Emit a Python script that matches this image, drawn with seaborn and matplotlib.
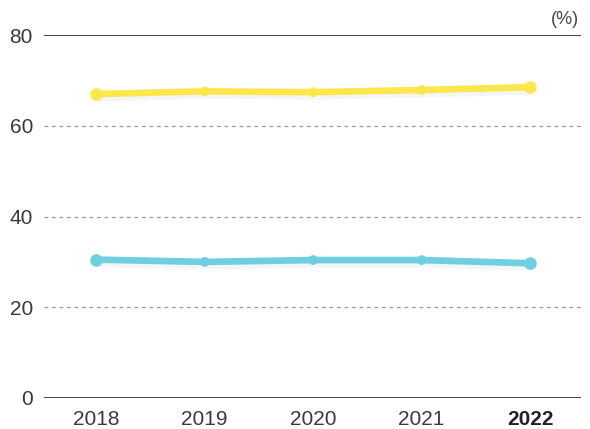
import pandas as pd
import seaborn as sns
import matplotlib.pyplot as plt
import matplotlib.patheffects as pe

years = ["2018", "2019", "2020", "2021", "2022"]
yellow_vals = [67.0, 67.6, 67.4, 67.9, 68.5]
blue_vals = [30.5, 30.0, 30.4, 30.4, 29.7]

df = pd.DataFrame({"Year": years * 2,
                   "Value": yellow_vals + blue_vals,
                   "Series": ["yellow"] * 5 + ["blue"] * 5})

sns.set_style("white")
plt.rcParams['font.family'] = ['Liberation Sans', 'DejaVu Sans']

fig = plt.figure(figsize=(5.9, 4.29), dpi=100)
ax = fig.add_axes([0.0746, 0.0723, 0.9104, 0.846])

palette = {"yellow": "#FDE74C", "blue": "#6FCEE0"}
shadow = [pe.SimpleLineShadow(offset=(1, -3), shadow_color="#9fb4c4", alpha=0.12, rho=1), pe.Normal()]
sns.lineplot(data=df, x="Year", y="Value", hue="Series", palette=palette,
             linewidth=4.8, marker="o", markersize=7, markeredgewidth=0,
             legend=False, ax=ax, path_effects=shadow, sort=False)

# bigger end markers
for vals, key in [(yellow_vals, "yellow"), (blue_vals, "blue")]:
    ax.plot([0, 4], [vals[0], vals[-1]], "o", color=palette[key], markersize=9, markeredgewidth=0, zorder=5)

ax.set_ylim(0, 80)
ax.set_xlim(-0.48, 4.47)
ax.set_yticks([0, 20, 40, 60, 80])
for y in [20, 40, 60]:
    ax.axhline(y, color="#999999", linestyle=(0, (3, 3)), linewidth=0.9, zorder=0)
ax.axhline(80, color="#222222", linewidth=1.2, zorder=0)
ax.axhline(0, color="#222222", linewidth=1.2, zorder=0)

for s in ax.spines.values():
    s.set_visible(False)
ax.tick_params(axis="both", length=0, labelsize=15, labelcolor="#3a3a3a")
ax.tick_params(axis="y", pad=8)
ax.tick_params(axis="x", pad=9)
ax.set_xlabel("")
ax.set_ylabel("")
ax.get_xticklabels()[-1].set_fontweight("bold")
ax.get_xticklabels()[-1].set_color("#222222")

fig.text(0.982, 0.935, "(%)", ha="right", va="bottom", fontsize=13, color="#444444")

fig.savefig("out.png", dpi=100)
